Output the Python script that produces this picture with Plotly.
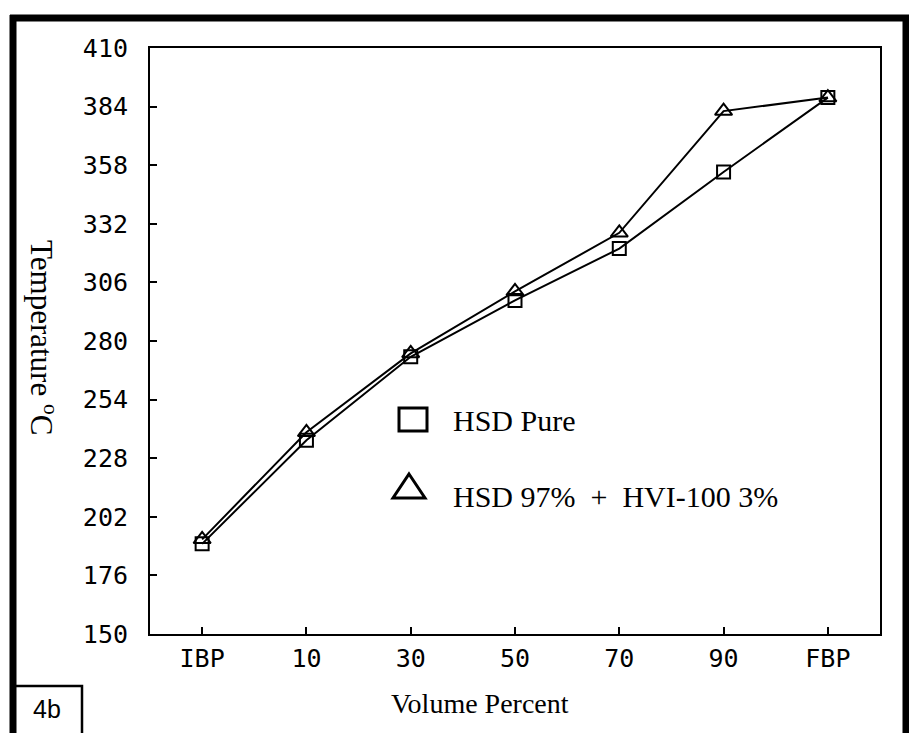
import plotly.graph_objects as go

categories = ["IBP", "10", "30", "50", "70", "90", "FBP"]
hsd_pure = [190, 236, 273, 298, 321, 355, 388]
hsd_hvi = [192, 239.5, 274.5, 302, 328, 382, 388]
y_ticks = [150, 176, 202, 228, 254, 280, 306, 332, 358, 384, 410]

W, H = 909, 733
L, R, T, B = 150, 880, 48, 634

def px(x):
    return (x - L) / (R - L)

def py(y):
    return (B - y) / (B - T)

fig = go.Figure()
fig.add_trace(go.Scatter(
    x=categories, y=hsd_pure, mode="lines+markers", name="HSD Pure",
    line=dict(color="black", width=2),
    marker=dict(symbol="square-open", size=13, color="black", line=dict(width=2, color="black")),
    showlegend=False))
fig.add_trace(go.Scatter(
    x=categories, y=hsd_hvi, mode="lines+markers", name="HSD 97% + HVI-100 3%",
    line=dict(color="black", width=2),
    marker=dict(symbol="triangle-up-open", size=15, color="black", line=dict(width=2, color="black")),
    showlegend=False))

tickfont = dict(family="DejaVu Sans Mono", size=25, color="black")
serif = "Liberation Serif"

fig.update_xaxes(type="category", range=[-0.5, 6.5], showline=True, linecolor="black",
                 linewidth=2, mirror=True, ticks="inside", ticklen=7, tickwidth=2,
                 tickcolor="black", showgrid=False, zeroline=False, tickfont=tickfont,
                 ticklabelstandoff=1)
fig.update_yaxes(range=[150, 410], tickvals=y_ticks, showline=True, linecolor="black",
                 linewidth=2, mirror=True, ticks="inside", ticklen=7, tickwidth=2,
                 tickcolor="black", showgrid=False, zeroline=False, tickfont=tickfont,
                 ticklabelstandoff=15)

shapes = []
# outer thick frame
shapes.append(dict(type="line", xref="paper", yref="paper", x0=px(13), x1=px(13), y0=py(15), y1=py(740),
                   line=dict(color="black", width=7)))
shapes.append(dict(type="line", xref="paper", yref="paper", x0=px(10), x1=px(912), y0=py(18), y1=py(18),
                   line=dict(color="black", width=7)))
shapes.append(dict(type="line", xref="paper", yref="paper", x0=px(906), x1=px(906), y0=py(15), y1=py(740),
                   line=dict(color="black", width=7)))
# 4b box
shapes.append(dict(type="rect", xref="paper", yref="paper", x0=px(14), x1=px(82), y0=py(740), y1=py(686),
                   line=dict(color="black", width=2.5)))
# legend symbols
shapes.append(dict(type="rect", xref="paper", yref="paper", x0=px(399), x1=px(427), y0=py(431), y1=py(408),
                   line=dict(color="black", width=3)))
shapes.append(dict(type="path", xref="paper", yref="paper",
                   path=f"M {px(409)} {py(474)} L {px(425)} {py(498)} L {px(393)} {py(498)} Z",
                   line=dict(color="black", width=3)))

annotations = [
    dict(text="HSD Pure", x=px(451), y=py(420), xref="paper", yref="paper", xanchor="left",
         yanchor="middle", showarrow=False, font=dict(family=serif, size=30, color="black")),
    dict(text="HSD 97%  +  HVI-100 3%", x=px(451), y=py(496), xref="paper", yref="paper", xanchor="left",
         yanchor="middle", showarrow=False, font=dict(family=serif, size=30, color="black")),
    dict(text="Volume Percent", x=px(480), y=py(703), xref="paper", yref="paper", xanchor="center",
         yanchor="middle", showarrow=False, font=dict(family=serif, size=28, color="black")),
    dict(text="Temperature <sup>o</sup>C", x=px(44), y=py(337), xref="paper", yref="paper",
         xanchor="center", yanchor="middle", textangle=90, showarrow=False,
         font=dict(family=serif, size=31, color="black")),
    dict(text="4b", x=px(47), y=py(709), xref="paper", yref="paper", xanchor="center",
         yanchor="middle", showarrow=False, font=dict(family="Liberation Sans", size=25, color="black")),
]

fig.update_layout(width=W, height=H, margin=dict(l=L, r=W - R, t=T, b=H - B),
                  paper_bgcolor="white", plot_bgcolor="white",
                  shapes=shapes, annotations=annotations, showlegend=False)

fig.write_html("out.html")
